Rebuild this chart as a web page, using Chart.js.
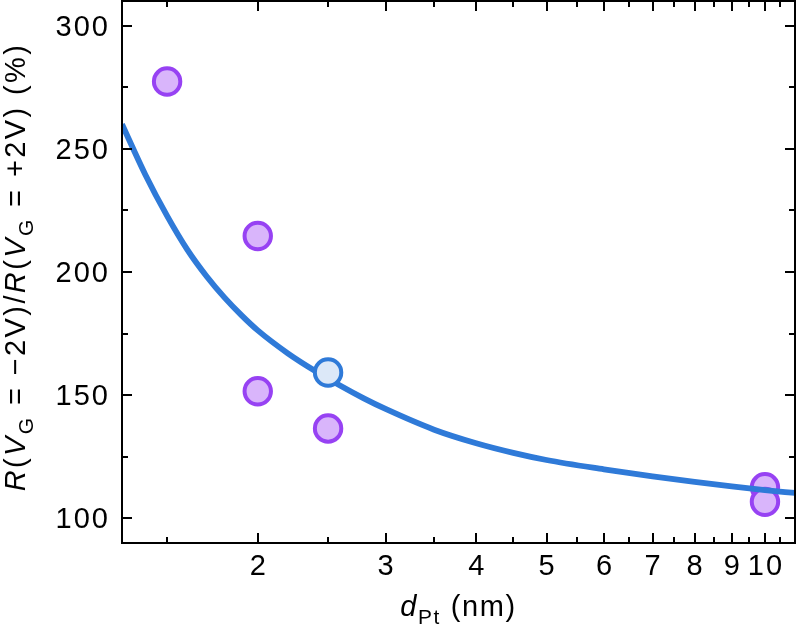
<!DOCTYPE html>
<html lang="en">
<head>
<meta charset="utf-8">
<title>R(VG=-2V)/R(VG=+2V) vs dPt</title>
<script src="https://cdn.jsdelivr.net/npm/chart.js@4/dist/chart.umd.min.js"></script>
<style>
  html, body { margin: 0; padding: 0; background: #fff; }
  #caixa { width: 796px; height: 637px; position: relative; }
</style>
</head>
<body>
<div id="caixa"><canvas id="grafico"></canvas></div>
<script>
/* Razão de resistência vs espessura de Pt, eixo x logarítmico. */
'use strict';

// pontos medidos (roxos)
const medidosX = [1.5, 2.0, 2.0, 2.5, 10, 10];
const medidosY = [277.3, 214.6, 151.6, 136.5, 112.6, 106.7];

// ponto destacado (azul)
const destaqueX = [2.5];
const destaqueY = [159.2];

// curva de ajuste
const curvaX = [1.3, 1.4, 1.5, 1.6, 1.7, 1.8, 1.9, 2.0, 2.2, 2.4, 2.6, 2.8, 3.0, 3.5, 4, 4.5, 5, 6, 7, 8, 9, 10, 11];
const curvaY = [260, 239.5, 222.8, 209, 198.3, 189.6, 182.4, 176.3, 167, 159.8, 153.8, 148.7, 144.4, 136, 130.5, 126.6, 123.7, 119.9, 117, 114.8, 113, 111.5, 110.3];

// ticks (os sem rótulo são menores)
const ticksX = [1.5, 2, 2.5, 3, 3.5, 4, 4.5, 5, 5.5, 6, 6.5, 7, 7.5, 8, 8.5, 9, 9.5, 10, 10.5];
const rotulosX = [2, 3, 4, 5, 6, 7, 8, 9, 10];
const ticksY = [100, 125, 150, 175, 200, 225, 250, 275, 300];
const rotulosY = [100, 150, 200, 250, 300];

const FONTE = '"Liberation Sans", Arial, sans-serif';
const TAM = 29;
const ROXO = '#9742f3';
const ROXO_CLARO = '#d9b5fb';
const AZUL = '#2f7ad8';
const AZUL_CLARO = '#dce8f8';

const pares = (xs, ys) => xs.map((x, i) => ({ x, y: ys[i] }));

// texto com itálico e subscrito, centrado em (0,0)
function textoRico(ctx, partes, tam) {
  const fonteDe = (p) => `${p.it ? 'italic ' : ''}${p.sub ? tam * 0.72 : tam}px ${FONTE}`;
  let largura = 0;
  for (const p of partes) { ctx.font = fonteDe(p); largura += ctx.measureText(p.t).width; }
  let x = -largura / 2;
  for (const p of partes) {
    ctx.font = fonteDe(p);
    ctx.fillText(p.t, x, p.sub ? tam * 0.26 : 0);
    x += ctx.measureText(p.t).width;
  }
}

const tituloY = [
  { t: 'R', it: true }, { t: '(' }, { t: 'V', it: true }, { t: 'G', sub: true },
  { t: ' = \u22122V)/' }, { t: 'R', it: true }, { t: '(' }, { t: 'V', it: true }, { t: 'G', sub: true },
  { t: ' = +2V) (%)' },
];
const tituloX = [{ t: 'd', it: true }, { t: 'Pt', sub: true }, { t: ' (nm)' }];

// moldura, ticks para dentro, rótulos e títulos
const moldura = {
  id: 'moldura',
  afterDraw(chart) {
    const { ctx, chartArea: a, scales } = chart;
    ctx.save();
    ctx.strokeStyle = '#000';
    ctx.lineWidth = 2;
    ctx.strokeRect(a.left, a.top, a.right - a.left, a.bottom - a.top);
    ctx.beginPath();
    for (const v of ticksX) {
      const px = Math.round(scales.x.getPixelForValue(v));
      const len = rotulosX.includes(v) ? 10 : 6;
      ctx.moveTo(px, a.bottom); ctx.lineTo(px, a.bottom - len);
      ctx.moveTo(px, a.top); ctx.lineTo(px, a.top + len);
    }
    for (const v of ticksY) {
      const py = Math.round(scales.y.getPixelForValue(v));
      const len = rotulosY.includes(v) ? 10 : 6;
      ctx.moveTo(a.left, py); ctx.lineTo(a.left + len, py);
      ctx.moveTo(a.right, py); ctx.lineTo(a.right - len, py);
    }
    ctx.stroke();

    ctx.fillStyle = '#000';
    // a fonte da figura é um pouco mais larga que a Liberation
    if ('letterSpacing' in ctx) ctx.letterSpacing = '2px';
    ctx.font = `${TAM}px ${FONTE}`;
    ctx.textBaseline = 'middle';
    ctx.textAlign = 'right';
    for (const v of rotulosY) {
      ctx.fillText(String(v), a.left - 12, scales.y.getPixelForValue(v) + 2);
    }
    ctx.textAlign = 'center';
    for (const v of rotulosX) {
      ctx.fillText(String(v), scales.x.getPixelForValue(v) + 1, a.bottom + 24);
    }

    ctx.textAlign = 'left';
    ctx.textBaseline = 'alphabetic';
    if ('letterSpacing' in ctx) ctx.letterSpacing = '2.4px';
    ctx.save();
    ctx.translate(25, (a.top + a.bottom) / 2 - 5);
    ctx.rotate(-Math.PI / 2);
    textoRico(ctx, tituloY, TAM);
    ctx.restore();
    if ('letterSpacing' in ctx) ctx.letterSpacing = '1.6px';
    ctx.save();
    ctx.translate((a.left + a.right) / 2, 616);
    textoRico(ctx, tituloX, TAM);
    ctx.restore();
    ctx.restore();
  },
};

const pontos = (dados, borda, fundo, ordem) => ({
  type: 'scatter',
  data: dados,
  order: ordem,
  pointRadius: 13.2,
  pointHoverRadius: 13.2,
  pointBorderWidth: 4,
  pointBorderColor: borda,
  pointBackgroundColor: fundo,
});

new Chart(document.getElementById('grafico'), {
  data: {
    datasets: [
      pontos(pares(medidosX, medidosY), ROXO, ROXO_CLARO, 3),
      {
        type: 'line',
        data: pares(curvaX, curvaY),
        order: 2,
        borderColor: AZUL,
        borderWidth: 5.8,
        pointRadius: 0,
        cubicInterpolationMode: 'monotone',
        fill: false,
      },
      pontos(pares(destaqueX, destaqueY), AZUL, AZUL_CLARO, 1),
    ],
  },
  options: {
    responsive: true,
    maintainAspectRatio: false,
    animation: false,
    // sem folga automática para o raio dos pontos
    layout: { autoPadding: false, padding: { top: 1, right: 1, left: 0, bottom: 0 } },
    plugins: { legend: { display: false }, tooltip: { enabled: false } },
    scales: {
      x: {
        type: 'logarithmic',
        min: 1.3,
        max: 11,
        afterFit: (s) => { s.height = 94; },
        grid: { display: false, drawTicks: false },
        border: { display: false },
        ticks: { display: false },
      },
      y: {
        type: 'linear',
        min: 90,
        max: 310,
        afterFit: (s) => { s.width = 122; },
        grid: { display: false, drawTicks: false },
        border: { display: false },
        ticks: { display: false },
      },
    },
  },
  plugins: [moldura],
});
</script>
</body>
</html>
